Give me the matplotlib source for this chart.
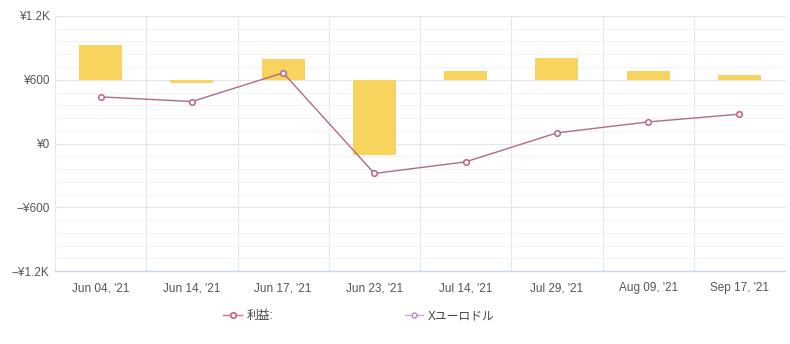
import matplotlib
matplotlib.use("Agg")
import matplotlib.pyplot as plt
from matplotlib.lines import Line2D
from matplotlib.ticker import MultipleLocator, FixedLocator
import numpy as np

plt.rcParams['font.family'] = ['Liberation Sans', 'Noto Sans CJK JP', 'DejaVu Sans']

categories = ["Jun 04, '21", "Jun 14, '21", "Jun 17, '21", "Jun 23, '21",
              "Jul 14, '21", "Jul 29, '21", "Aug 09, '21", "Sep 17, '21"]
profit = [925, 566, 800, -110, 680, 809, 680, 649]
bar_base = 600
eurusd = [439, 395, 665, -282, -173, 100, 203, 276]
yticks = [-1200, -600, 0, 600, 1200]
ytick_labels = ["\u2212\u00a51.2K", "\u2212\u00a5600", "\u00a50", "\u00a5600", "\u00a51.2K"]
legend_labels = ["利益:", "Xユーロドル"]

fig = plt.figure(figsize=(7.9, 3.44), dpi=100)
ax = fig.add_axes([55/790, (344-271)/344, 730/790, 255/344])

x = np.arange(len(categories))
ax.bar(x, np.array(profit) - bar_base, bottom=bar_base, width=0.47,
       color='#f8d35e', zorder=2)
ax.plot(x, eurusd, color='#b06a8c', lw=1, marker='o', ms=4,
        mfc='white', mec='#c0608a', mew=1.1, zorder=3)

ax.set_xlim(-0.5, len(categories) - 0.5)
ax.set_ylim(-1200, 1200)
ax.set_yticks(yticks)
ax.set_yticklabels(ytick_labels)
ax.yaxis.set_minor_locator(MultipleLocator(120))
ax.set_xticks(x)
ax.set_xticklabels(categories)
ax.xaxis.set_minor_locator(FixedLocator(np.arange(-0.5, len(categories), 1)))

ax.grid(which='major', axis='y', color='#e6e6e6', lw=0.8, zorder=0)
ax.grid(which='minor', axis='y', color='#f4f4f4', lw=0.8, zorder=0)
ax.grid(which='minor', axis='x', color='#e3e6ec', lw=0.8, zorder=0)
ax.set_axisbelow(True)

for s in ['top', 'right', 'left']:
    ax.spines[s].set_visible(False)
ax.spines['bottom'].set_color('#ccd6eb')
ax.spines['bottom'].set_linewidth(1)

ax.tick_params(axis='both', which='both', length=0, labelsize=8.5, colors='#555555')
ax.tick_params(axis='x', pad=8)
ax.tick_params(axis='y', pad=4)

handles = [
    Line2D([], [], color='#e0707a', lw=1, marker='o', ms=4, mfc='white', mec='#d85068', mew=1.1),
    Line2D([], [], color='#c9a6d6', lw=1, marker='o', ms=3.5, mfc='white', mec='#b890c8', mew=1.1),
]
fig.legend(handles, legend_labels, loc='center', bbox_to_anchor=(359/790, (344-316)/344),
           ncol=2, frameon=False, fontsize=8.5, handlelength=1.6, handletextpad=0.4,
           columnspacing=11.1, labelcolor='#444444')

fig.savefig("out.png", dpi=100)
